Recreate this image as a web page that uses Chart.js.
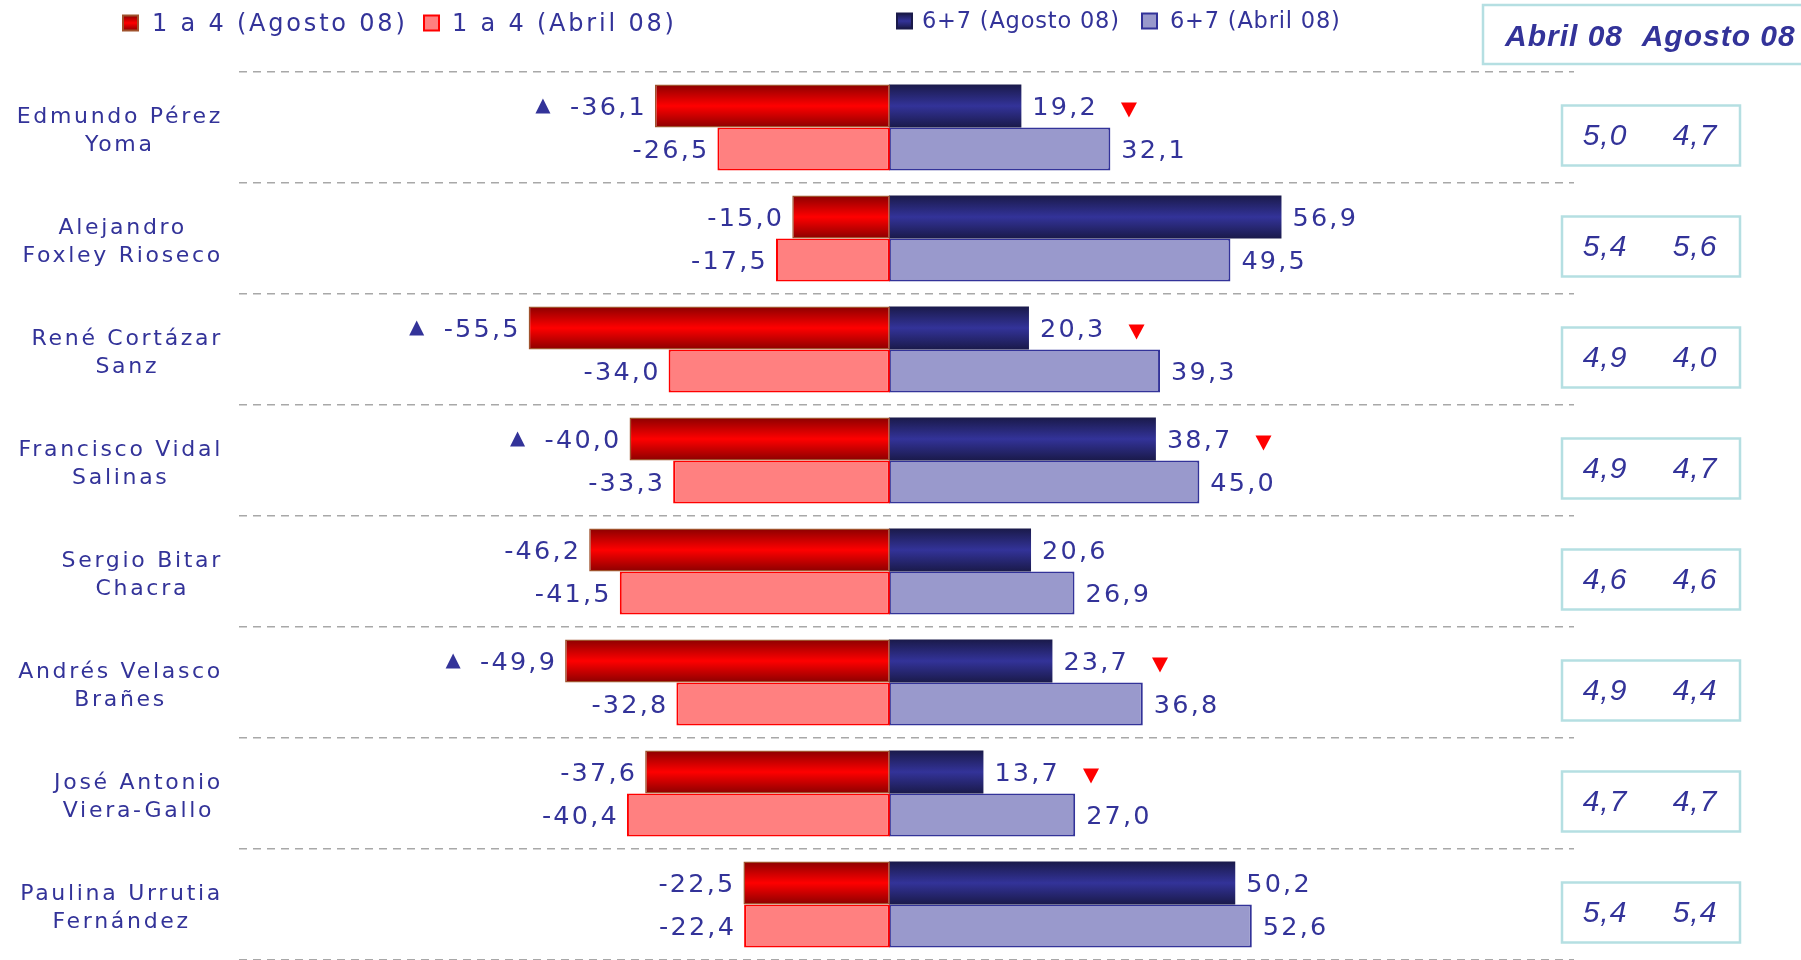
<!DOCTYPE html>
<html>
<head>
<meta charset="utf-8">
<script src="https://cdn.jsdelivr.net/npm/chart.js@4.4.0/dist/chart.umd.min.js"></script>
<style>
  html, body { margin: 0; padding: 0; background: #fff; }
  #wrap { width: 1801px; height: 960px; }
</style>
</head>
<body>
<div id="wrap"><canvas id="myChart" width="1801" height="960"></canvas></div>
<script>
// data
const categories = [
  ["Edmundo Pérez", "Yoma"],
  ["Alejandro", "Foxley Rioseco"],
  ["René Cortázar", "Sanz"],
  ["Francisco Vidal", "Salinas"],
  ["Sergio Bitar", "Chacra"],
  ["Andrés Velasco", "Brañes"],
  ["José Antonio", "Viera-Gallo"],
  ["Paulina Urrutia", "Fernández"]
];
const malaAgosto = [-36.1, -15.0, -55.5, -40.0, -46.2, -49.9, -37.6, -22.5];
const malaAbril = [-26.5, -17.5, -34.0, -33.3, -41.5, -32.8, -40.4, -22.4];
const buenaAgosto = [19.2, 56.9, 20.3, 38.7, 20.6, 23.7, 13.7, 50.2];
const buenaAbril = [32.1, 49.5, 39.3, 45.0, 26.9, 36.8, 27.0, 52.6];
const notaAbril = [5.0, 5.4, 4.9, 4.9, 4.6, 4.9, 4.7, 5.4];
const notaAgosto = [4.7, 5.6, 4.0, 4.7, 4.6, 4.4, 4.7, 5.4];
const subeMala = [true, false, true, true, false, true, false, false];
const bajaBuena = [true, false, true, true, false, true, true, false];
const seriesLabels = ["1 a 4 (Agosto 08)", "1 a 4 (Abril 08)", "6+7 (Agosto 08)", "6+7 (Abril 08)"];
const headerText = "Abril 08  Agosto 08";

const TEXT = "#333399";
const CAT_PCT = 0.775;
const FONT = '"DejaVu Sans", Verdana, sans-serif';

const fmt = (v) => (v < 0 ? "-" : "") + Math.abs(v).toFixed(1).replace(".", ",");

// vertical gradient for the "Agosto" bars (dark edges, bright middle)
function barGradient(dark, light) {
  return function (c) {
    const chart = c.chart;
    const yScale = chart.scales.y;
    if (c.type !== "data" || !yScale || !chart.chartArea) return light;
    const center = yScale.getPixelForValue(c.dataIndex);
    const band = yScale.getPixelForValue(1) - yScale.getPixelForValue(0);
    const h = band * CAT_PCT / 2;
    const g = chart.ctx.createLinearGradient(0, center - h, 0, center);
    g.addColorStop(0, dark);
    g.addColorStop(0.5, light);
    g.addColorStop(1, dark);
    return g;
  };
}

function legendGradient(ctx, y, h, dark, light) {
  const g = ctx.createLinearGradient(0, y, 0, y + h);
  g.addColorStop(0, dark);
  g.addColorStop(0.5, light);
  g.addColorStop(1, dark);
  return g;
}

function triangle(ctx, cx, cy, w, h, up, color) {
  ctx.beginPath();
  if (up) {
    ctx.moveTo(cx, cy - h / 2);
    ctx.lineTo(cx + w / 2, cy + h / 2);
    ctx.lineTo(cx - w / 2, cy + h / 2);
  } else {
    ctx.moveTo(cx - w / 2, cy - h / 2);
    ctx.lineTo(cx + w / 2, cy - h / 2);
    ctx.lineTo(cx, cy + h / 2);
  }
  ctx.closePath();
  ctx.fillStyle = color;
  ctx.fill();
}

// value labels next to each bar + the little arrows
const valueLabels = {
  id: "valueLabels",
  afterDatasetsDraw(chart) {
    const ctx = chart.ctx;
    ctx.save();
    ctx.font = "25.5px " + FONT;
    ctx.letterSpacing = "2.2px";
    ctx.textBaseline = "middle";
    chart.data.datasets.forEach((ds, di) => {
      const meta = chart.getDatasetMeta(di);
      meta.data.forEach((bar, i) => {
        const v = ds.data[i];
        const txt = fmt(v);
        const w = ctx.measureText(txt).width;
        ctx.fillStyle = TEXT;
        if (v < 0) {
          ctx.textAlign = "right";
          const right = bar.x - 8;
          ctx.fillText(txt, right, bar.y + 2);
          if (di === 0 && subeMala[i]) {
            triangle(ctx, right - w - 27, bar.y, 15, 15, true, TEXT);
          }
        } else {
          ctx.textAlign = "left";
          const left = bar.x + 11;
          ctx.fillText(txt, left, bar.y + 2);
          if (di === 2 && bajaBuena[i]) {
            triangle(ctx, left + w + 31, bar.y + 4, 16, 15, false, "#ff0000");
          }
        }
      });
    });
    ctx.restore();
  }
};

// category names, legend, header and the grade boxes on the right
const sideParts = {
  id: "sideParts",
  afterDraw(chart) {
    const ctx = chart.ctx;
    const yScale = chart.scales.y;
    ctx.save();

    // category names: block centered, longest line ends at the same x
    ctx.font = "22px " + FONT;
    ctx.letterSpacing = "2.7px";
    ctx.fillStyle = TEXT;
    ctx.textAlign = "center";
    ctx.textBaseline = "middle";
    categories.forEach((lines, i) => {
      const cy = yScale.getPixelForValue(i);
      const maxW = Math.max(...lines.map((l) => ctx.measureText(l).width));
      const cx = 223 - maxW / 2;
      lines.forEach((line, k) => {
        ctx.fillText(line, cx, cy + 3.5 + (k - (lines.length - 1) / 2) * 28);
      });
    });

    // legend
    const ds = chart.data.datasets;
    const items = [
      { box: 123, text: 152, y: 23.5, size: 24, spacing: "2.8px", dark: "#8b0000", light: "#ff0000", border: "#a0522d" },
      { box: 424, text: 452, y: 23.5, size: 24, spacing: "2.8px", fill: "#ff8080", border: "#ff0000" },
      { box: 897, text: 922, y: 21.5, size: 22.5, spacing: "0.8px", dark: "#1a1a4a", light: "#333399", border: "#1a1a4a" },
      { box: 1142, text: 1170, y: 21.5, size: 22.5, spacing: "0.8px", fill: "#9999cc", border: "#333399" }
    ];
    items.forEach((it, i) => {
      const bx = it.box, by = it.y - 8, s = 15;
      ctx.fillStyle = it.fill || legendGradient(ctx, by, s, it.dark, it.light);
      ctx.fillRect(bx, by, s, s);
      ctx.lineWidth = 2;
      ctx.strokeStyle = it.border;
      ctx.strokeRect(bx, by, s, s);
      ctx.font = it.size + "px " + FONT;
      ctx.letterSpacing = it.spacing;
      ctx.fillStyle = TEXT;
      ctx.textAlign = "left";
      ctx.fillText(ds[i].label, it.text, it.y + 1);
    });

    // header box
    ctx.strokeStyle = "#b5dfe2";
    ctx.lineWidth = 2.5;
    ctx.strokeRect(1483, 5, 330, 59);
    ctx.font = "italic bold 30px 'Liberation Sans', Arial, sans-serif";
    ctx.letterSpacing = "1px";
    ctx.fillStyle = TEXT;
    ctx.textAlign = "left";
    ctx.textBaseline = "alphabetic";
    ctx.fillText(headerText, 1505, 46);

    // grade boxes
    ctx.font = "italic 30px 'Liberation Sans', Arial, sans-serif";
    ctx.textAlign = "center";
    ctx.textBaseline = "middle";
    categories.forEach((_, i) => {
      const cy = yScale.getPixelForValue(i) + 8;
      ctx.strokeStyle = "#b5dfe2";
      ctx.lineWidth = 2.5;
      ctx.strokeRect(1562, cy - 30, 178, 60);
      ctx.fillStyle = TEXT;
      ctx.fillText(notaAbril[i].toFixed(1).replace(".", ","), 1605, cy + 1);
      ctx.fillText(notaAgosto[i].toFixed(1).replace(".", ","), 1695, cy + 1);
    });

    ctx.restore();
  }
};

const ctx = document.getElementById("myChart");
new Chart(ctx, {
  type: "bar",
  data: {
    labels: categories,
    datasets: [
      {
        label: seriesLabels[0],
        data: malaAgosto,
        xAxisID: "xNeg",
        stack: "ago",
        backgroundColor: barGradient("#8b0000", "#ff0000"),
        borderColor: "#a0522d",
        borderWidth: 1.5,
        borderSkipped: false
      },
      {
        label: seriesLabels[1],
        data: malaAbril,
        xAxisID: "xNeg",
        stack: "abr",
        backgroundColor: "#ff8080",
        borderColor: "#ff0000",
        borderWidth: 2,
        borderSkipped: false
      },
      {
        label: seriesLabels[2],
        data: buenaAgosto,
        xAxisID: "xPos",
        stack: "ago",
        backgroundColor: barGradient("#1a1a4a", "#333399"),
        borderWidth: 0
      },
      {
        label: seriesLabels[3],
        data: buenaAbril,
        xAxisID: "xPos",
        stack: "abr",
        backgroundColor: "#9999cc",
        borderColor: "#333399",
        borderWidth: 2,
        borderSkipped: false
      }
    ]
  },
  options: {
    indexAxis: "y",
    responsive: false,
    animation: false,
    events: [],
    categoryPercentage: CAT_PCT,
    barPercentage: 1,
    layout: { padding: { top: 72, right: 227, left: 0, bottom: 0 } },
    plugins: {
      legend: { display: false },
      tooltip: { enabled: false }
    },
    scales: {
      // the two halves come from two separate charts, so they have slightly different scales
      xNeg: { type: "linear", axis: "x", position: "bottom", display: false, min: -100, max: 105.1 },
      xPos: { type: "linear", axis: "x", position: "bottom", display: false, min: -94.2, max: 99.3 },
      y: {
        grid: { color: "#a8a8a8", lineWidth: 1.5, drawTicks: false },
        border: { display: false, dash: [8, 6] },
        ticks: { display: false },
        afterFit: (scale) => { scale.width = 239; }
      }
    }
  },
  plugins: [valueLabels, sideParts]
});
</script>
</body>
</html>
